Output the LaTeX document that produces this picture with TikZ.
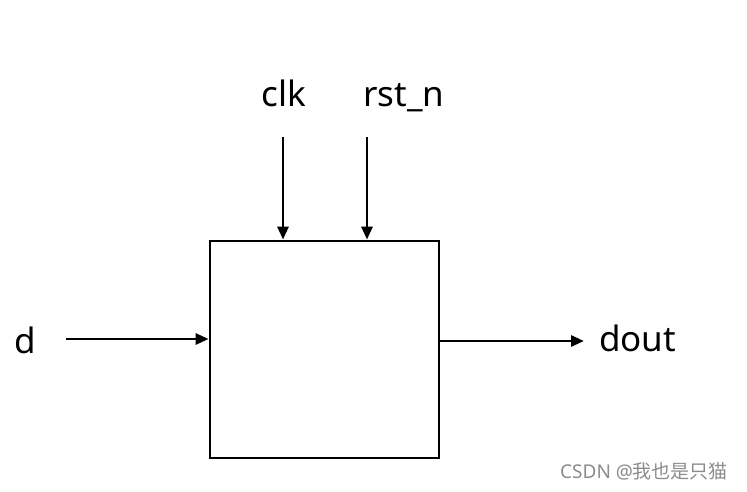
\documentclass[tikz,border=0pt]{standalone}
\usepackage{fontspec}
\setmainfont{Noto Sans}
\newfontfamily\cjk{Noto Sans CJK SC}
\usetikzlibrary{arrows.meta}
\begin{document}
\begin{tikzpicture}[x=1pt,y=-1pt,
  sig/.style={line width=2.8pt,-{Triangle[length=13pt,width=11pt]}},
  lbl/.style={font=\fontsize{35}{40}\selectfont,inner sep=0pt},
  blk/.style={draw,line width=2.8pt,minimum width=229pt,minimum height=217pt,inner sep=0pt}]
\useasboundingbox[fill=white] (0,0) rectangle (747,491);
\node[blk] (box) at (324.5,349.5) {};
\node[lbl,anchor=base] (clk) at (284,106) {clk};
\node[lbl,anchor=base] (rst) at (404,106) {rst\_n};
\node[lbl,anchor=base] (d) at (25,353) {d};
\node[lbl,anchor=base west] (dout) at (599,351) {dout};
\coordinate (clks) at (283,137);
\coordinate (rsts) at (367,137);
\coordinate (ds) at (66,339);
\coordinate (doute) at (584,341);
\draw[sig] (clks) -- (clks |- box.north);
\draw[sig] (rsts) -- (rsts |- box.north);
\draw[sig] (ds) -- (ds -| box.west);
\draw[sig] (doute -| box.east) -- (doute);
\node[anchor=base west,inner sep=0pt,text=black!45,font=\fontsize{19}{22}\selectfont] (wm) at (560,478) {CSDN @{\cjk 我也是只猫}};
\end{tikzpicture}
\end{document}
